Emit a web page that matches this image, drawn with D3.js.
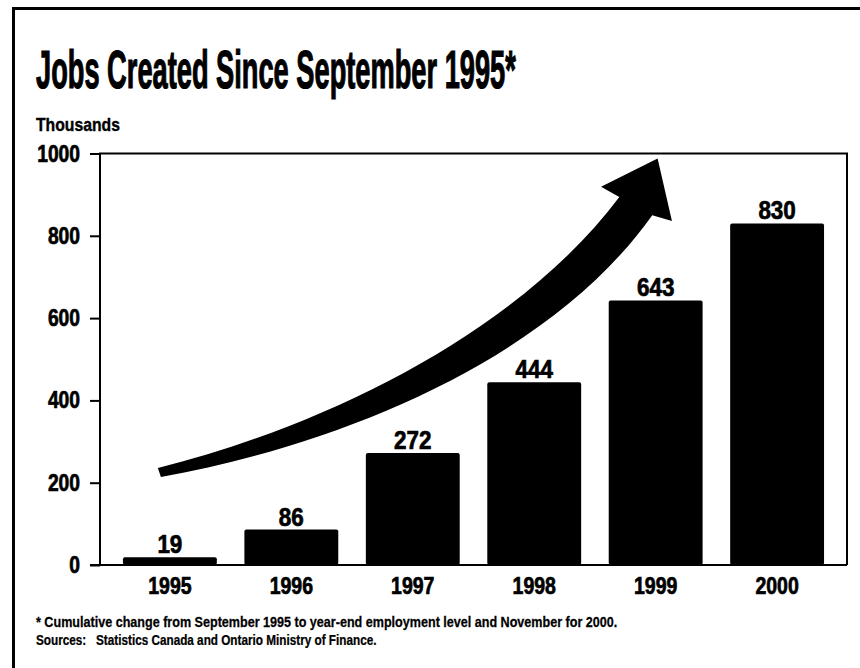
<!DOCTYPE html>
<html>
<head>
<meta charset="utf-8">
<script src="https://cdn.jsdelivr.net/npm/d3@7"></script>
<style>
  body { margin: 0; background: #fff; }
  svg { display: block; }
  text { font-family: "Liberation Sans", Arial, sans-serif; font-weight: bold; fill: #000; }
  text.heavy { stroke: #000; stroke-width: 0.7px; }
  text.title { stroke: #000; stroke-width: 1.2px; }
</style>
</head>
<body>
<svg id="chart" width="860" height="668"></svg>
<script>
// Cumulative jobs created (thousands)
const years = ["1995", "1996", "1997", "1998", "1999", "2000"];
const jobs = [19, 86, 272, 444, 643, 830];
const yTicks = [0, 200, 400, 600, 800, 1000];

const titleText = "Jobs Created Since September 1995*";
const unitText = "Thousands";
const notes = [
  "* Cumulative change from September 1995 to year-end employment level and November for 2000.",
  "Sources:\u00a0\u00a0\u00a0Statistics Canada and Ontario Ministry of Finance."
];

// Growth arrow outline, in (year index, thousands) units
const arrowTail = [[-0.099, 236], [1.316, 340], [2.878, 571], [3.701, 894]];
const arrowHead = [[3.550, 919], [4.016, 988], [4.134, 836], [3.972, 850]];
const arrowBack = [[3.125, 498], [1.398, 292], [-0.074, 214]];

const svg = d3.select("#chart");
const W = 860, H = 668;
const plot = { left: 100, right: 847, top: 153.5, bottom: 565 };

// condensed look: squeeze a text horizontally about its anchor point,
// by a factor or down to a fixed width
function condense(sel, factor, width) {
  sel.each(function () {
    const t = d3.select(this);
    const s = width != null ? width / this.getComputedTextLength() : factor;
    const tx = +t.attr("x") || 0, ty = +t.attr("y") || 0;
    t.attr("transform", `translate(${tx},${ty}) scale(${s},1) translate(${-tx},${-ty})`);
  });
}

const x = d3.scaleBand().domain(years).range([plot.left, plot.right])
  .paddingInner(0.227).paddingOuter(0.189);
const y = d3.scaleLinear().domain([0, 1000]).range([plot.bottom, plot.top]);
const xi = i => x(years[0]) + x.bandwidth() / 2 + i * x.step();
const P = d => [xi(d[0]), y(d[1])];

// page frame (top and left rules)
svg.append("path")
  .attr("d", `M13.5,${H} V8.5 H${W}`)
  .attr("fill", "none").attr("stroke", "#000").attr("stroke-width", 3);

// title and unit label
svg.append("text").attr("class", "title").attr("x", 36).attr("y", 88)
  .attr("font-size", 53).text(titleText)
  .call(condense, null, 480);
svg.append("text").attr("class", "heavy").attr("x", 36).attr("y", 131)
  .attr("font-size", 19).text(unitText)
  .call(condense, null, 84)
  .style("stroke-width", "0.4px");

// bars
svg.append("g").selectAll("rect").data(jobs).join("rect")
  .attr("x", (d, i) => x(years[i]))
  .attr("y", d => y(d))
  .attr("width", x.bandwidth())
  .attr("height", d => y(0) - y(d))
  .attr("rx", 2).attr("fill", "#000");

// value labels
svg.append("g").selectAll("text").data(jobs).join("text")
  .attr("class", "heavy")
  .attr("x", (d, i) => x(years[i]) + x.bandwidth() / 2)
  .attr("y", d => y(d) - 4)
  .attr("text-anchor", "middle")
  .attr("font-size", 25.5)
  .text(d => d)
  .call(condense, 0.88);

// arrow
const a0 = arrowTail.map(P), a1 = arrowHead.map(P), a2 = arrowBack.map(P);
const arrowD = `M${a0[0]} C${a0[1]} ${a0[2]} ${a0[3]} L${a1[0]} L${a1[1]} L${a1[2]} L${a1[3]} C${a2[0]} ${a2[1]} ${a2[2]} Z`;
svg.append("path").attr("d", arrowD).attr("fill", "#000");

// plot frame
svg.append("path")
  .attr("d", `M${plot.left},${plot.bottom} V${plot.top} H${plot.right} V${plot.bottom}`)
  .attr("fill", "none").attr("stroke", "#000").attr("stroke-width", 2);

// y axis
const yAxis = svg.append("g").attr("transform", `translate(${plot.left},0)`)
  .call(d3.axisLeft(y).tickValues(yTicks).tickSize(10).tickPadding(10).tickFormat(d3.format("d")));
yAxis.select(".domain").remove();
yAxis.selectAll(".tick line").attr("stroke", "#000").attr("stroke-width", 2);
yAxis.selectAll(".tick text").attr("class", "heavy").attr("font-size", 23.5).attr("font-family", null).attr("fill", "#000")
  .call(condense, 0.82);

// x axis
const xAxis = svg.append("g").attr("transform", `translate(0,${plot.bottom})`)
  .call(d3.axisBottom(x).tickSize(0).tickPadding(12));
xAxis.select(".domain").attr("d", `M${plot.left - 10},0 H${plot.right}`)
  .attr("stroke", "#000").attr("stroke-width", 2);
xAxis.selectAll(".tick text").attr("class", "heavy").attr("font-size", 23.5).attr("font-family", null).attr("fill", "#000")
  .call(condense, 0.83);

// footnotes
const noteW = [582, 341];
svg.append("g").selectAll("text").data(notes).join("text")
  .attr("x", 36).attr("y", (d, i) => 627 + i * 18)
  .attr("font-size", 14)
  .style("stroke", "#000").style("stroke-width", "0.25px")
  .text(d => d)
  .each(function (d, i) { d3.select(this).call(condense, null, noteW[i]); });
</script>
</body>
</html>
